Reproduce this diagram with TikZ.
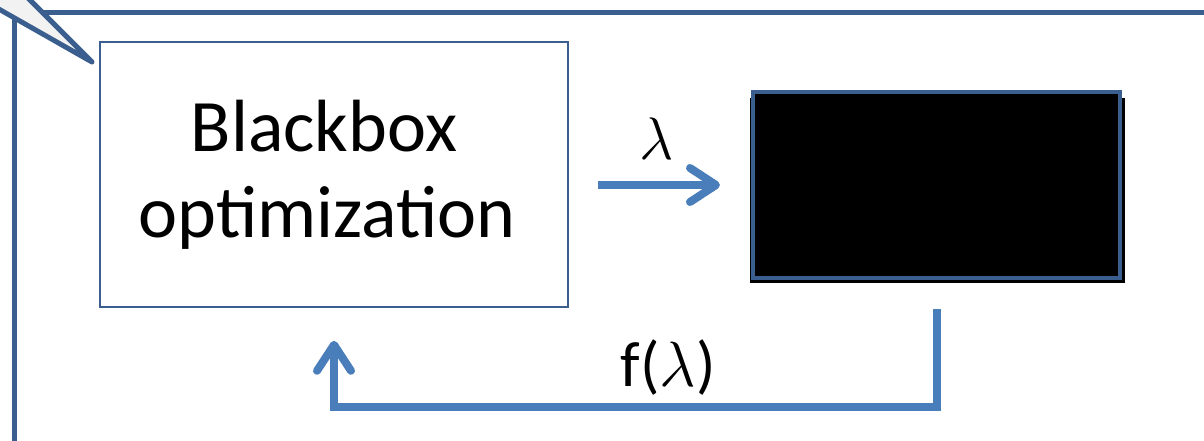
\RequirePackage{fix-cm}
\documentclass[tikz,border=0pt]{standalone}
\usepackage{fontspec}
\setmainfont{Carlito}
\usepackage{amsmath}
\usetikzlibrary{arrows.meta,positioning}
\definecolor{BBFrame}{HTML}{3A5F8E}
\definecolor{BBFlow}{HTML}{4A7EBB}
\definecolor{BBTail}{HTML}{F2F2F2}
\newcommand{\lam}{\ensuremath{\lambda}}
\tikzset{
  bbframe/.style={draw=BBFrame,line width=5pt},
  bbtail/.style={draw=BBFrame,fill=BBTail,line width=5pt,line join=round},
  bbbox/.style={
    draw=BBFrame,
    fill=white,
    line width=1.6pt,
    align=center,
    font=\fontsize{74}{86}\selectfont
  },
  bbblack/.style={
    draw=BBFrame,
    fill=black,
    line width=4pt
  },
  bbflow/.style={-{Straight Barb[length=26pt,width=34pt,round]},draw=BBFlow,line width=8pt}
}

\begin{document}
\begin{tikzpicture}[x=1pt,y=-1pt]
  \useasboundingbox (0,0) rectangle (1204,440);
  \clip (0,0) rectangle (1204,440);

  % frame and callout tail
  \draw[bbframe] (14,12) rectangle (1260,500);
  \draw[bbtail] (-40,-13) -- (92,62) -- (18,-12);

  \node[bbbox,minimum width=468pt,minimum height=265pt] (optbox) at (334,174.5) {\hspace*{-20pt}Blackbox\\\hspace*{-14pt}optimization};
  \fill[black] (750,98) rectangle (1125,283);
  \node[bbblack,minimum width=367pt,minimum height=186pt] (blackbox) at (936.5,185) {};

  \draw[bbflow,shorten <=29pt,shorten >=31pt] (blackbox.west -| optbox.east) -- (blackbox.west)
    node[midway,above=18pt,xshift=-3pt,font=\fontsize{60}{64}\selectfont] (lamlabel) {\lam};
  \draw[bbflow] (blackbox.south) ++(0,29) -- ++(0,98) coordinate (fbcorner)
    -| ([yshift=-33pt]optbox.south);
  \node[font=\fontsize{64}{70}\selectfont] (flabel) at (668,368) {f(\lam)};
\end{tikzpicture}
\end{document}
